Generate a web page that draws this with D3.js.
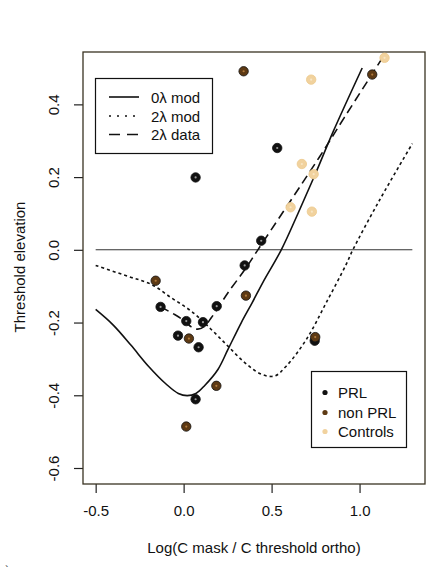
<!DOCTYPE html>
<html>
<head>
<meta charset="utf-8">
<script src="https://cdn.jsdelivr.net/npm/d3@7"></script>
<style>
  html, body { margin: 0; padding: 0; background: #fff; }
  svg { display: block; }
  text { font-family: "Liberation Sans", Arial, sans-serif; fill: #111; }
</style>
</head>
<body>
<svg id="chart" width="435" height="587"></svg>
<script>
// ---- data ----
const xTickValues = [-0.5, 0.0, 0.5, 1.0];
const xTickLabels = ["-0.5", "0.0", "0.5", "1.0"];
const yTickValues = [-0.6, -0.4, -0.2, 0.0, 0.2, 0.4];
const yTickLabels = ["-0.6", "-0.4", "-0.2", "0.0", "0.2", "0.4"];

// 0λ mod (solid)
const mod0X = [-0.5, -0.4, -0.3, -0.2, -0.1, -0.03, 0.02, 0.07, 0.12, 0.195, 0.252, 0.328, 0.39, 0.45, 0.555, 0.65, 0.75, 0.85, 1.015];
const mod0Y = [-0.164, -0.207, -0.262, -0.32, -0.369, -0.395, -0.401, -0.395, -0.373, -0.329, -0.274, -0.2, -0.145, -0.09, 0.0, 0.1, 0.21, 0.325, 0.50];
// 2λ mod (dotted)
const mod2X = [-0.5, -0.316, -0.184, -0.07, 0.044, 0.157, 0.252, 0.347, 0.441, 0.517, 0.583, 0.697, 0.81, 0.924, 0.962, 1.114, 1.3];
const mod2Y = [-0.043, -0.073, -0.095, -0.132, -0.169, -0.219, -0.265, -0.31, -0.342, -0.347, -0.32, -0.247, -0.146, -0.04, 0.0, 0.137, 0.292];
// 2λ data (dashed)
const dataX = [-0.131, -0.051, 0.006, 0.044, 0.081, 0.119, 0.157, 0.195, 0.252, 0.347, 0.422, 0.773, 0.915, 1.133];
const dataY = [-0.157, -0.178, -0.196, -0.212, -0.218, -0.21, -0.187, -0.16, -0.118, -0.055, 0.0, 0.256, 0.365, 0.53];

// points
const prlX = [0.068, 0.532, 0.441, 0.347, 0.188, -0.131, 0.015, 0.11, -0.032, 0.085, 0.068, 0.745];
const prlY = [0.199, 0.28, 0.025, -0.043, -0.155, -0.157, -0.196, -0.199, -0.236, -0.268, -0.411, -0.25];
const nonX = [0.341, 1.072, -0.159, 0.354, 0.03, 0.186, 0.015, 0.748];
const nonY = [0.491, 0.482, -0.085, -0.126, -0.244, -0.374, -0.486, -0.24];
const ctrlX = [0.725, 1.142, 0.672, 0.739, 0.608, 0.729];
const ctrlY = [0.468, 0.528, 0.236, 0.208, 0.117, 0.105];

const lineNames = ["0λ mod", "2λ mod", "2λ data"];
const groupNames = ["PRL", "non PRL", "Controls"];
const groupColors = ["#111111", "#5e3a14", "#f1d29e"];
const groupCenters = ["#9a9a9a", "#b07a3c", "#f8e6c4"];

// ---- layout ----
const svg = d3.select("#chart");
const x = d3.scaleLinear().domain([-0.572, 1.372]).range([83, 425]);
const y = d3.scaleLinear().domain([-0.644, 0.544]).range([484, 52]);

// axes
const xAxis = svg.append("g").attr("transform", "translate(0,484)")
  .call(d3.axisBottom(x).tickValues(xTickValues).tickFormat((d, i) => xTickLabels[i]).tickSize(9).tickPadding(12));
xAxis.select(".domain").remove();
xAxis.selectAll("line").attr("stroke", "#222").attr("stroke-width", 1.2);
xAxis.selectAll("text").attr("font-size", 15).attr("fill", "#111").style("font-family", "'Liberation Sans', Arial, sans-serif");

const yAxis = svg.append("g").attr("transform", "translate(83,0)")
  .call(d3.axisLeft(y).tickValues(yTickValues).tickFormat((d, i) => yTickLabels[i]).tickSize(9));
yAxis.select(".domain").remove();
yAxis.selectAll("line").attr("stroke", "#222").attr("stroke-width", 1.2);
yAxis.selectAll("text")
  .attr("font-size", 15).attr("fill", "#111")
  .style("font-family", "'Liberation Sans', Arial, sans-serif")
  .attr("x", null).attr("dy", null)
  .attr("text-anchor", "middle")
  .attr("transform", "translate(-24,0) rotate(-90)")
  .attr("y", 0);

// plot box
svg.append("rect").attr("x", 83).attr("y", 52).attr("width", 342).attr("height", 432)
  .attr("fill", "none").attr("stroke", "#3a3322").attr("stroke-width", 1.3);

// axis titles
svg.append("text").attr("x", 254).attr("y", 553).attr("text-anchor", "middle")
  .attr("font-size", 15).text("Log(C mask / C threshold ortho)");
svg.append("text").attr("transform", "translate(25,267) rotate(-90)").attr("text-anchor", "middle")
  .attr("font-size", 15).text("Threshold elevation");
svg.append("text").attr("x", 5).attr("y", 574).attr("font-size", 11).attr("fill", "#666").text("`");

// reference line at 0
svg.append("line").attr("x1", x(-0.5)).attr("x2", x(1.3)).attr("y1", y(0)).attr("y2", y(0))
  .attr("stroke", "#333").attr("stroke-width", 1.1);

// curves
const mk = (xs, ys) => xs.map((v, i) => [v, ys[i]]);
const line = d3.line().x(d => x(d[0])).y(d => y(d[1])).curve(d3.curveCatmullRom.alpha(0.5));
const dashes = [null, "3,3", "9,5"];
[mk(mod0X, mod0Y), mk(mod2X, mod2Y), mk(dataX, dataY)].forEach((pts, i) => {
  svg.append("path").attr("d", line(pts)).attr("fill", "none")
    .attr("stroke", "#111").attr("stroke-width", 1.6)
    .attr("stroke-dasharray", dashes[i]);
});

// points
const groups = [mk(prlX, prlY), mk(nonX, nonY), mk(ctrlX, ctrlY)];
[0, 1, 2].forEach(g => {
  const sel = svg.append("g");
  sel.selectAll("circle.pt").data(groups[g]).join("circle").attr("class", "pt")
    .attr("cx", d => x(d[0])).attr("cy", d => y(d[1])).attr("r", 4.7)
    .attr("fill", groupColors[g])
    .attr("stroke", g === 2 ? "#ecc98c" : "#111").attr("stroke-width", 0.8);
  sel.selectAll("circle.ctr").data(groups[g]).join("circle").attr("class", "ctr")
    .attr("cx", d => x(d[0])).attr("cy", d => y(d[1])).attr("r", 1.1)
    .attr("fill", groupCenters[g]);
});

// legend 1 (lines)
svg.append("rect").attr("x", 95.5).attr("y", 78.5).attr("width", 117).attr("height", 75)
  .attr("fill", "#fff").attr("stroke", "#111").attr("stroke-width", 1.2);
const l1y = [97, 116, 134.5];
lineNames.forEach((n, i) => {
  svg.append("line").attr("x1", 109).attr("x2", 139).attr("y1", l1y[i]).attr("y2", l1y[i])
    .attr("stroke", "#111").attr("stroke-width", 1.6).attr("stroke-dasharray", i === 1 ? "2,6" : (i === 2 ? "11,7" : null));
  svg.append("text").attr("x", 151).attr("y", l1y[i] + 5.5).attr("font-size", 15).text(n);
});

// legend 2 (groups)
svg.append("rect").attr("x", 311.5).attr("y", 371.5).attr("width", 95).attr("height", 76)
  .attr("fill", "#fff").attr("stroke", "#111").attr("stroke-width", 1.2);
const l2y = [392.5, 412.5, 431.5];
groupNames.forEach((n, i) => {
  svg.append("circle").attr("cx", 325).attr("cy", l2y[i]).attr("r", 2.6).attr("fill", groupColors[i]);
  svg.append("text").attr("x", 338).attr("y", l2y[i] + 5.5).attr("font-size", 15).text(n);
});
</script>
</body>
</html>
